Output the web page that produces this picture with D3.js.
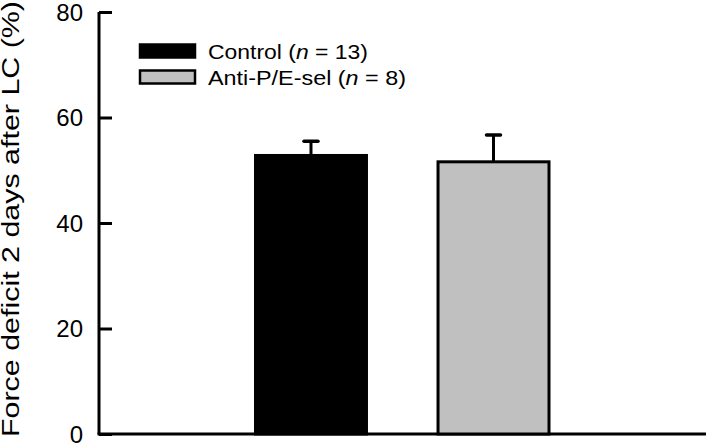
<!DOCTYPE html>
<html>
<head>
<meta charset="utf-8">
<script src="https://cdn.jsdelivr.net/npm/d3@7"></script>
<style>
  body { margin: 0; background: #fff; }
  svg { display: block; font-family: "Liberation Sans", Arial, sans-serif; }
</style>
</head>
<body>
<div id="chart"></div>
<script>
// Chart data
const groups = ['Control', 'Anti-P/E-sel'];
const groupN = [13, 8];
const means = [52.8, 51.6];
const errors = [2.7, 5.1];
const fills = ['#000000', '#c0c0c0'];
const yTicks = [0, 20, 40, 60, 80];

const width = 709, height = 444;
const margin = { top: 12, right: 3, bottom: 10, left: 99 };

const svg = d3.select('#chart')
  .append('svg')
  .attr('width', width)
  .attr('height', height);

// Scales
const y = d3.scaleLinear()
  .domain([0, 80])
  .range([height - margin.bottom, margin.top]);

const x = d3.scaleBand()
  .domain(groups)
  .range([255.5, 549])
  .paddingInner(0.392)
  .paddingOuter(0);

// Y axis (ticks point inward)
const yAxis = svg.append('g')
  .attr('transform', `translate(${margin.left},0)`)
  .call(d3.axisRight(y).tickValues(yTicks).tickSize(13).tickFormat(''));
yAxis.select('.domain').attr('stroke', '#000').attr('stroke-width', 3)
  .attr('d', `M0,${y(80)}V${y(0)}`);
yAxis.selectAll('.tick line').attr('stroke', '#000').attr('stroke-width', 3);

// Tick labels
svg.append('g').selectAll('text')
  .data(yTicks)
  .enter().append('text')
  .attr('x', margin.left - 16)
  .attr('y', d => y(d))
  .attr('dy', '0.36em')
  .attr('text-anchor', 'end')
  .style('font-size', '24px')
  .text(d => d);

// X axis line
svg.append('line')
  .attr('x1', margin.left - 1.5)
  .attr('x2', width - margin.right)
  .attr('y1', y(0))
  .attr('y2', y(0))
  .attr('stroke', '#000')
  .attr('stroke-width', 3);

// Error bars (drawn first so bar covers lower part)
const err = svg.append('g');
groups.forEach((g, i) => {
  const cx = x(g) + x.bandwidth() / 2;
  err.append('line')
    .attr('x1', cx).attr('x2', cx)
    .attr('y1', y(means[i])).attr('y2', y(means[i] + errors[i]))
    .attr('stroke', '#000').attr('stroke-width', 3);
  err.append('line')
    .attr('x1', cx - 7).attr('x2', cx + 7)
    .attr('y1', y(means[i] + errors[i])).attr('y2', y(means[i] + errors[i]))
    .attr('stroke', '#000').attr('stroke-width', 3.5)
    .attr('stroke-linecap', 'round');
});

// Bars
svg.append('g').selectAll('rect')
  .data(groups)
  .enter().append('rect')
  .attr('x', d => x(d))
  .attr('y', (d, i) => y(means[i]))
  .attr('width', x.bandwidth())
  .attr('height', (d, i) => y(0) - y(means[i]))
  .attr('fill', (d, i) => fills[i])
  .attr('stroke', '#000')
  .attr('stroke-width', 3);

// Y axis title (stretched along its length like the original)
svg.append('text')
  .attr('transform', 'translate(18.5,219) rotate(-90)')
  .attr('text-anchor', 'middle')
  .attr('textLength', 436)
  .attr('lengthAdjust', 'spacingAndGlyphs')
  .style('font-size', '23px')
  .text('Force deficit 2 days after LC (%)');

// Legend
const legendWidths = [160, 198];
const legend = svg.append('g').attr('transform', 'translate(140,43)');
groups.forEach((g, i) => {
  const row = legend.append('g').attr('transform', `translate(0,${i * 26})`);
  row.append('rect')
    .attr('x', 0).attr('y', 1.5)
    .attr('width', 55).attr('height', 13)
    .attr('fill', fills[i])
    .attr('stroke', '#000').attr('stroke-width', 2.5);
  const t = row.append('text')
    .attr('x', 68).attr('y', 15.5)
    .attr('textLength', legendWidths[i])
    .attr('lengthAdjust', 'spacingAndGlyphs')
    .style('font-size', '20px');
  t.append('tspan').text(`${g} (`);
  t.append('tspan').style('font-style', 'italic').text('n');
  t.append('tspan').text(` = ${groupN[i]})`);
});
</script>
</body>
</html>
